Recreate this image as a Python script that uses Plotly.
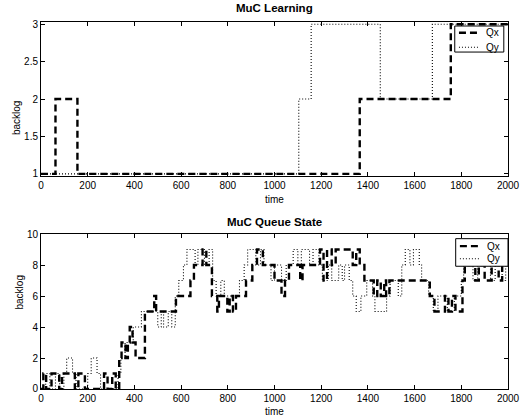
import plotly.graph_objects as go
from plotly.subplots import make_subplots

# --- MuC Learning (top panel): step changes of the learned backlog ---
learn_qx_t = [0, 62, 156, 1365, 1755, 2000]
learn_qx_v = [1, 2, 1, 2, 3, 3]
learn_qy_t = [0, 1104, 1157, 1453, 1676, 2000]
learn_qy_v = [1, 2, 3, 2, 3, 3]

# --- MuC Queue State (bottom panel): queue backlog over time ---
queue_qx_t = [0, 10, 22, 45, 78, 90, 145, 160, 188, 270, 285, 305, 320, 335, 345,
              362, 372, 380, 392, 405, 445, 485, 493, 578, 640, 655, 692, 708, 732,
              755, 762, 798, 808, 822, 835, 878, 905, 925, 950, 1000, 1030, 1045,
              1062, 1110, 1120, 1195, 1210, 1225, 1245, 1262, 1300, 1335, 1350,
              1365, 1385, 1425, 1440, 1455, 1470, 1478, 1492, 1665, 1685, 1730,
              1745, 1760, 1775, 1805, 1815, 1860, 1875, 1900, 1930, 1960, 1975, 2000]
queue_qx_v = [0, 1, 0, 1, 0, 1, 0, 1, 0, 1, 0, 1, 0, 2, 3,
              2, 3, 4, 3, 2, 5, 6, 5, 6, 7, 8, 9, 8, 6,
              5, 6, 5, 6, 5, 6, 7, 8, 9, 8, 7, 6, 7,
              8, 7, 8, 9, 7, 9, 8, 9, 9, 8, 9,
              8, 7, 6, 7, 6, 7, 6, 7, 6, 5, 6,
              5, 6, 5, 7, 8, 7, 8, 7, 8, 7, 8, 8]

queue_qy_t = [0, 20, 38, 62, 80, 98, 110, 135, 150, 200, 215, 240, 255, 330, 342,
              360, 395, 430, 500, 515, 525, 545, 560, 575, 590, 610, 625, 660, 672,
              700, 720, 735, 750, 770, 785, 850, 870, 885, 920, 940, 955, 985, 1000,
              1030, 1050, 1080, 1100, 1115, 1150, 1165, 1190, 1205, 1230, 1245, 1275,
              1290, 1300, 1320, 1335, 1350, 1370, 1395, 1420, 1430, 1480, 1495, 1530,
              1545, 1560, 1580, 1595, 1620, 1630, 1660, 1680, 1700, 1740, 1770, 1800,
              1810, 1850, 1870, 1925, 1945, 1975, 1990, 2000]
queue_qy_v = [0, 1, 0, 1, 0, 1, 2, 1, 0, 1, 2, 1, 0, 1, 2,
              3, 4, 5, 4, 5, 4, 5, 4, 6, 7, 8, 9, 8, 9,
              8, 9, 7, 6, 7, 6, 7, 8, 9, 8, 9, 8, 7, 8,
              7, 8, 9, 8, 9, 8, 9, 8, 7, 8, 7, 8,
              7, 8, 7, 6, 5, 6, 7, 6, 5, 6, 7, 6,
              8, 9, 8, 9, 8, 7, 6, 5, 6, 5, 6, 7,
              8, 7, 8, 7, 8, 7, 8, 8]

x_ticks = list(range(0, 2001, 200))
learn_y_ticks = [1, 1.5, 2, 2.5, 3]
queue_y_ticks = [0, 2, 4, 6, 8, 10]
series_names = ["Qx", "Qy"]

FONT = "Liberation Sans, Arial, Helvetica, sans-serif"
TEXT_SIZE = 10
QX_DASH = "7px,4px"
QY_DASH = "1px,2px"
QX_LINE = dict(color="black", width=2.4, dash=QX_DASH, shape="hv")
QY_LINE = dict(color="black", width=1.1, dash=QY_DASH, shape="hv")

fig = make_subplots(rows=2, cols=1, vertical_spacing=0.0)

fig.add_trace(go.Scatter(x=learn_qx_t, y=learn_qx_v, mode="lines", name=series_names[0],
                         line=QX_LINE), row=1, col=1)
fig.add_trace(go.Scatter(x=learn_qy_t, y=learn_qy_v, mode="lines", name=series_names[1],
                         line=QY_LINE), row=1, col=1)
fig.add_trace(go.Scatter(x=queue_qx_t, y=queue_qx_v, mode="lines", name=series_names[0],
                         line=QX_LINE), row=2, col=1)
fig.add_trace(go.Scatter(x=queue_qy_t, y=queue_qy_v, mode="lines", name=series_names[1],
                         line=QY_LINE), row=2, col=1)

axis_common = dict(showline=True, linecolor="black", linewidth=1, mirror="ticks",
                   ticks="inside", ticklen=4, tickcolor="black", showgrid=False,
                   zeroline=False, ticklabeloverflow="allow", automargin=False,
                   tickfont=dict(family=FONT, size=TEXT_SIZE, color="black"))

top_dom = [0.580, 1.0]
bot_dom = [0.0, 0.4223]

fig.update_layout(
    width=520, height=419,
    margin=dict(l=41, r=12, t=22, b=30, autoexpand=False),
    paper_bgcolor="white", plot_bgcolor="white",
    font=dict(family=FONT, size=TEXT_SIZE, color="black"),
    showlegend=False,
    xaxis=dict(range=[0, 2000], tickvals=x_ticks, domain=[0, 1], **axis_common),
    xaxis2=dict(range=[0, 2000], tickvals=x_ticks, domain=[0, 1], **axis_common),
    yaxis=dict(range=[0.97, 3.03], tickvals=learn_y_ticks,
               ticktext=[f"{v:g}" for v in learn_y_ticks], domain=top_dom, **axis_common),
    yaxis2=dict(range=[0, 10], tickvals=queue_y_ticks, domain=bot_dom, **axis_common),
)

# Compact boxed key in the upper-right corner of each panel (axis-domain coordinates)
def add_key(xref, yref, box, rows):
    x0, x1, y0, y1 = box
    fig.add_shape(type="rect", xref=xref, yref=yref, x0=x0, x1=x1, y0=y0, y1=y1,
                  line=dict(color="black", width=1), fillcolor="white", layer="above")
    for (name, dash, width, ypos) in rows:
        fig.add_shape(type="line", xref=xref, yref=yref, x0=x0 + 0.009, x1=x0 + 0.05,
                      y0=ypos, y1=ypos, layer="above",
                      line=dict(color="black", width=width, dash=dash))
        fig.add_annotation(text=name, xref=xref, yref=yref, x=x0 + 0.063, y=ypos,
                           xanchor="left", yanchor="middle", showarrow=False,
                           font=dict(family=FONT, size=TEXT_SIZE, color="black"))

add_key("x domain", "y domain", (0.886, 0.991, 0.805, 0.974),
        [(series_names[0], QX_DASH, 2.4, 0.930), (series_names[1], QY_DASH, 1.1, 0.836)])
add_key("x2 domain", "y2 domain", (0.888, 1.0, 0.792, 0.970),
        [(series_names[0], QX_DASH, 2.4, 0.922), (series_names[1], QY_DASH, 1.1, 0.840)])

annots = [
    dict(text="<b>MuC Learning</b>", x=0.5, y=top_dom[1], yanchor="bottom", yshift=6,
         size=11.5),
    dict(text="<b>MuC Queue State</b>", x=0.5, y=bot_dom[1], yanchor="bottom", yshift=4,
         size=11.5),
    dict(text="time", x=0.5, y=top_dom[0], yanchor="top", yshift=-16),
    dict(text="time", x=0.5, y=bot_dom[0], yanchor="top", yshift=-15),
    dict(text="backlog", x=0, y=sum(top_dom) / 2, xanchor="center", textangle=-90, xshift=-25),
    dict(text="backlog", x=0, y=sum(bot_dom) / 2, xanchor="center", textangle=-90, xshift=-21),
]
for a in annots:
    size = a.pop("size", TEXT_SIZE)
    fig.add_annotation(xref="paper", yref="paper", showarrow=False,
                       font=dict(family=FONT, size=size, color="black"), **a)

fig.write_html("out.html")
